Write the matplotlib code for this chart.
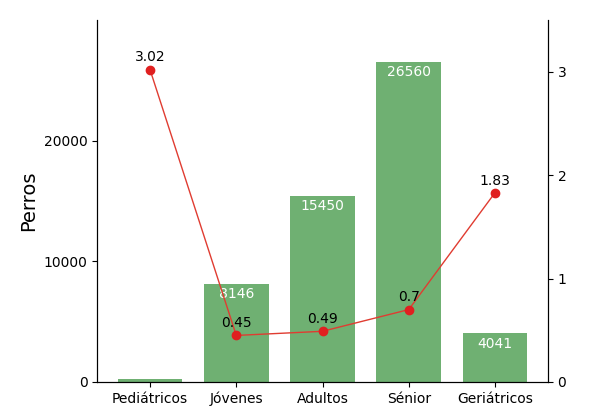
import matplotlib
matplotlib.use("Agg")
import matplotlib.pyplot as plt

categories = ["Pediátricos", "Jóvenes", "Adultos", "Sénior", "Geriátricos"]
perros = [250, 8146, 15450, 26560, 4041]
ratio = [3.02, 0.45, 0.49, 0.7, 1.83]
bar_labels = ["", "8146", "15450", "26560", "4041"]

fig, ax = plt.subplots(figsize=(6.0, 4.17), dpi=100)
fig.subplots_adjust(left=0.162, right=0.913, top=0.952, bottom=0.084)
x = range(len(categories))
bars = ax.bar(x, perros, color="#5fa863", alpha=0.9, width=0.75)
for b, lab in zip(bars, bar_labels):
    if lab:
        ax.text(b.get_x() + b.get_width() / 2, b.get_height() - 300, lab,
                ha="center", va="top", color="white", fontsize=10)
ax.set_ylim(0, 30000)
ax.set_yticks([0, 10000, 20000])
ax.set_ylabel("Perros", fontsize=14)
ax.set_xticks(list(x))
ax.set_xticklabels(categories, fontsize=10)
ax.spines["top"].set_visible(False)

ax2 = ax.twinx()
ax2.plot(list(x), ratio, color="#e03c31", marker="o", lw=1, markersize=6, markeredgecolor="#e02020", markerfacecolor="#e02020")
for xi, r in zip(x, ratio):
    ax2.text(xi, r + 0.05, str(r), ha="center", va="bottom", fontsize=10)
ax2.set_ylim(0, 3.5)
ax2.set_yticks([0, 1, 2, 3])
ax2.spines["top"].set_visible(False)

fig.savefig("out.png", dpi=100)
